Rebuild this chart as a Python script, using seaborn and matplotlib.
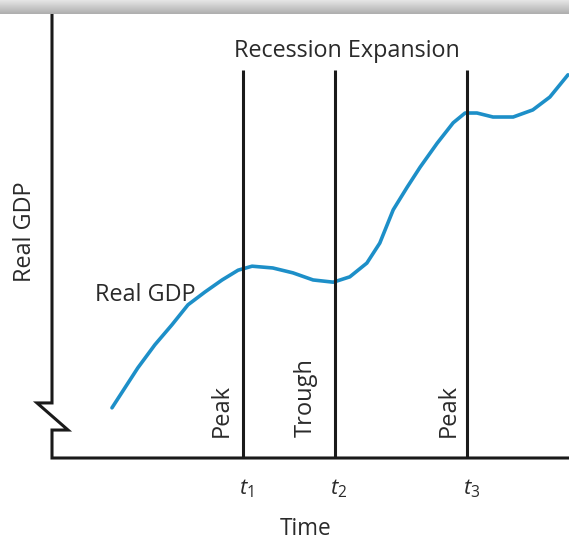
import numpy as np
import matplotlib
matplotlib.use("Agg")
import matplotlib.pyplot as plt
import seaborn as sns
import pandas as pd

# ---- data (arbitrary units) ----
time = [11.6, 14.1, 16.6, 19.9, 23.2, 26.3, 29.6, 32.9, 36.0, 38.7, 42.7, 46.6,
        50.5, 54.4, 57.6, 60.9, 63.4, 66.0, 68.7, 71.2, 74.5, 77.6, 79.9, 82.2,
        85.3, 89.2, 93.0, 96.3, 99.8]
gdp = [11.3, 15.8, 20.3, 25.5, 30.0, 34.5, 37.4, 40.1, 42.3, 43.2, 42.8, 41.7,
       40.1, 39.6, 40.8, 43.9, 48.4, 55.9, 61.0, 65.5, 70.9, 75.5, 77.7, 77.7,
       76.8, 76.8, 78.4, 81.3, 86.3]
turning_t = [36.9, 54.7, 80.3]
turning_names = ["Peak", "Trough", "Peak"]
tick_labels = ["$t_1$", "$t_2$", "$t_3$"]

sns.set_theme(style="white")
plt.rcParams['font.family'] = ['Open Sans', 'DejaVu Sans']
plt.rcParams['mathtext.fontset'] = 'custom'
plt.rcParams['mathtext.rm'] = 'Open Sans'
plt.rcParams['mathtext.it'] = 'Open Sans:italic'

TXT = "#2a2a2a"
W, H = 569, 544
fig = plt.figure(figsize=(W / 100, H / 100), dpi=100)
fig.patch.set_facecolor("white")

# top gray frame band
band = fig.add_axes([0, (H - 14) / H, 1, 14 / H])
grad = np.linspace(0.90, 0.68, 50).reshape(-1, 1)
band.imshow(grad, aspect="auto", cmap="gray", vmin=0, vmax=1, extent=[0, 1, 0, 1])
band.axis("off")

ax = fig.add_axes([52 / W, (H - 458) / H, 517 / W, 444 / H])
ax.set_xlim(0, 100)
ax.set_ylim(0, 100)
ax.set_facecolor("white")

df = pd.DataFrame({"Time": time, "Real GDP": gdp})
sns.lineplot(data=df, x="Time", y="Real GDP", ax=ax, color="#1d8fc8",
             linewidth=2.6, sort=False, estimator=None,
             solid_joinstyle="round", solid_capstyle="round")

ax.vlines(turning_t, 0, 87.4, color="#1a1a1a", linewidth=2.2)

offsets = [1.7, 3.3, 1.2]
for t, name, off in zip(turning_t, turning_names, offsets):
    ax.text(t - off, 4.7, name, rotation=90, ha="right", va="bottom",
            fontsize=17, color=TXT)

ax.text(57.1, 91.6, "Recession Expansion", ha="center", va="center",
        fontsize=16.8, color=TXT)
ax.text(8.4, 36.6, "Real GDP", ha="left", va="center", fontsize=16.8, color=TXT)

for s in ax.spines.values():
    s.set_visible(False)
ax.set_xticks([])
ax.set_yticks([])
for t, lab in zip(turning_t, tick_labels):
    ax.text(t + 0.8, -7.0, lab, ha="center", va="center", fontsize=16, color=TXT)
ax.set_xlabel("")
ax.set_ylabel("")
fig.text(306 / W, 1 - 529 / H, "Time", ha="center", va="center", fontsize=16.3, color=TXT)
fig.text(25 / W, 1 - 232 / H, "Real GDP", ha="center", va="center", rotation=90,
         fontsize=16.8, color=TXT)

# axis with break
bx = [0, 0, -0.029, 0.031, 0, 0, 1.0]
by = [1, 0.124, 0.124, 0.063, 0.063, 0, 0]
ax.plot(bx, by, transform=ax.transAxes, color="#1a1a1a", linewidth=2.2,
        clip_on=False, solid_joinstyle="miter", solid_capstyle="butt")

fig.savefig("out.png", dpi=100, facecolor="white")
